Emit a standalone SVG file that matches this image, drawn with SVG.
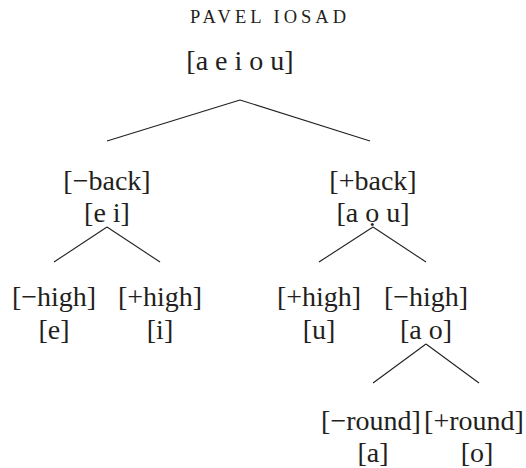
<svg xmlns="http://www.w3.org/2000/svg" width="526" height="468" viewBox="0 0 526 468">
<style>
text{font-family:"Liberation Serif","Times New Roman",serif;font-size:28px;fill:#231f20;text-anchor:middle}
.hdr{font-size:18.5px;letter-spacing:4px}
line{stroke:#231f20;stroke-width:1.1}
</style>
<rect width="526" height="468" fill="#fff"/>
<text class="hdr" x="270" y="23">PAVEL IOSAD</text>
<g id="root"><text x="240" y="70">[a e i o u]</text></g>
<g id="back-neg"><text x="107" y="190">[−back]</text><text x="107" y="222">[e i]</text></g>
<g id="back-pos"><text x="373" y="190">[+back]</text><text x="373" y="222">[a ọ u]</text></g>
<g id="high-neg-l"><text x="54" y="306">[−high]</text><text x="54" y="339">[e]</text></g>
<g id="high-pos-l"><text x="160" y="306">[+high]</text><text x="160" y="339">[i]</text></g>
<g id="high-pos-r"><text x="319" y="306">[+high]</text><text x="319" y="339">[u]</text></g>
<g id="high-neg-r"><text x="426" y="306">[−high]</text><text x="426" y="339">[a o]</text></g>
<g id="round-neg"><text x="371" y="430">[−round]</text><text x="373" y="462">[a]</text></g>
<g id="round-pos"><text x="474" y="430">[+round]</text><text x="477" y="462">[o]</text></g>
<g id="connectors">
<line x1="240" y1="100" x2="107" y2="141"/>
<line x1="240" y1="100" x2="370" y2="141"/>
<line x1="107" y1="227" x2="54" y2="262"/>
<line x1="107" y1="227" x2="160" y2="262"/>
<line x1="373" y1="227" x2="319" y2="262"/>
<line x1="373" y1="227" x2="426" y2="262"/>
<line x1="426" y1="344" x2="373" y2="383"/>
<line x1="426" y1="344" x2="479" y2="383"/>
</g>
</svg>
